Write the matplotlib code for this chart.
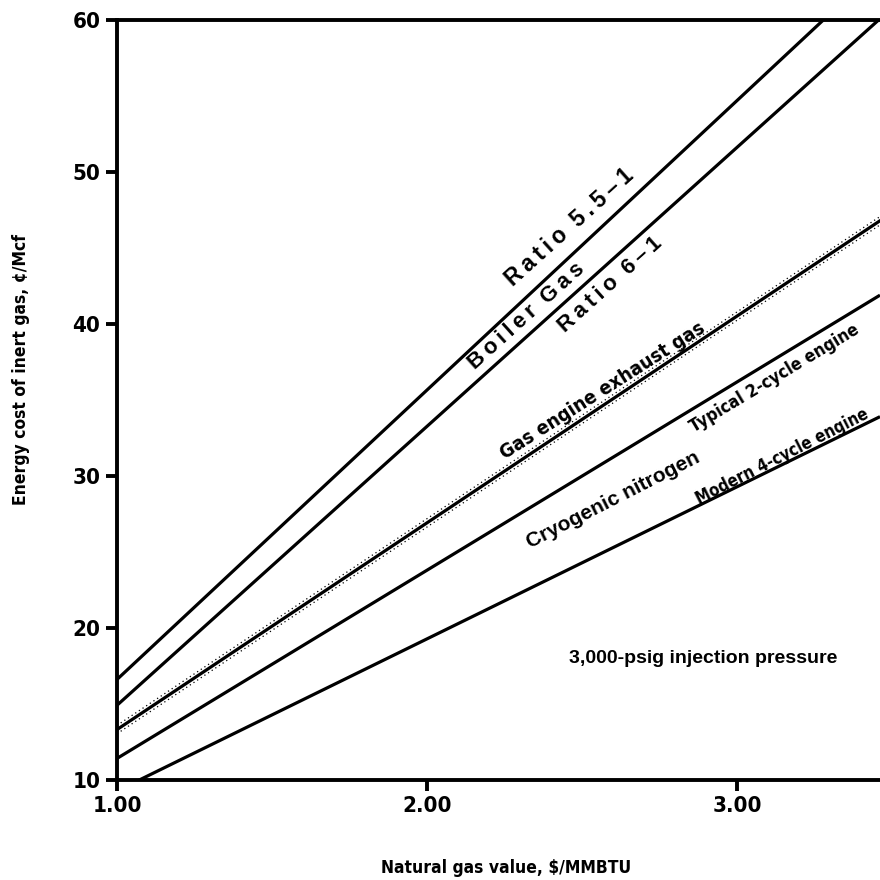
import matplotlib
matplotlib.use("Agg")
import matplotlib.pyplot as plt
import matplotlib.transforms as mtransforms

# Энергозатраты на инертный газ в зависимости от цены природного газа
x_ends = [1.0, 3.46]
ratio_55 = [16.6, 63.5]
ratio_6 = [14.9, 60.1]
gas_engine = [13.3, 46.8]
cryo_2cycle = [11.4, 41.9]
modern_4cycle = [9.26, 33.9]

x_ticks = [1.0, 2.0, 3.0]
x_tick_labels = ["1.00", "2.00", "3.00"]
y_ticks = [10, 20, 30, 40, 50, 60]

cond = dict(family="DejaVu Sans", stretch="condensed", weight="bold")
helv = dict(family=["Liberation Sans", "DejaVu Sans"], weight="bold")


def spaced(s):
    # разрядка букв тонкими пробелами
    return "\u2009".join(s)


fig = plt.figure(figsize=(8.8, 8.8), dpi=100)
ax = fig.add_axes([0.133, 0.114, 0.867, 0.863])

for ys in [ratio_55, ratio_6, cryo_2cycle, modern_4cycle]:
    ax.plot(x_ends, ys, color="black", lw=2.3, solid_capstyle="butt")

# линия выхлопных газов – с "шумом" по краям
ax.plot(x_ends, gas_engine, color="black", lw=2.3)
for dy in (3, -3):
    tr = mtransforms.offset_copy(ax.transData, fig=fig, x=0, y=dy, units="points")
    ax.plot(x_ends, gas_engine, color="black", lw=0.9, ls=(0, (1, 2.5)), transform=tr)

ax.set_xlim(1.0, 3.46)
ax.set_ylim(10, 60)
ax.spines["right"].set_visible(False)
for s in ["left", "bottom", "top"]:
    ax.spines[s].set_linewidth(2.8)

ax.set_xticks(x_ticks)
ax.set_xticklabels(x_tick_labels)
ax.set_yticks(y_ticks)
ax.tick_params(axis="both", direction="out", length=8, width=2.8, labelsize=16, pad=4)
for lbl in ax.get_xticklabels() + ax.get_yticklabels():
    lbl.set_family(cond["family"])
    lbl.set_stretch("condensed")
    lbl.set_weight("bold")

ax.set_xlabel("Natural gas value, $/MMBTU", fontsize=12.5, **cond)
ax.xaxis.set_label_coords(0.51, -0.116)
ax.xaxis.label.set_va("center")
ax.set_ylabel("Energy cost of inert gas, ¢/Mcf", fontsize=12.5, **cond)
ax.yaxis.set_label_coords(-0.126, 0.54)
ax.yaxis.label.set_va("center")

kw = dict(ha="center", va="center", rotation_mode="anchor", color="black")
ax.text(2.46, 46.4, spaced("Ratio") + "  " + spaced("5.5–1"), rotation=42, fontsize=16.5, **helv, **kw)
ax.text(2.32, 40.5, spaced("Boiler") + "  " + spaced("Gas"), rotation=42, fontsize=16, **helv, **kw)
ax.text(2.59, 42.6, spaced("Ratio") + "  " + spaced("6–1"), rotation=42, fontsize=16, **helv, **kw)
ax.text(2.565, 35.6, "Gas engine exhaust gas", rotation=32.5, fontsize=14.2, **cond, **kw)
ax.text(3.12, 36.4, "Typical 2-cycle engine", rotation=31, fontsize=12.5, **cond, **kw)
ax.text(2.60, 28.4, "Cryogenic nitrogen", rotation=27, fontsize=15, **helv, **kw)
ax.text(3.145, 31.3, "Modern 4-cycle engine", rotation=27, fontsize=12, **cond, **kw)
ax.text(2.89, 18.0, "3,000-psig injection pressure", fontsize=14, **helv, **kw)

fig.savefig("out.png", dpi=100)
